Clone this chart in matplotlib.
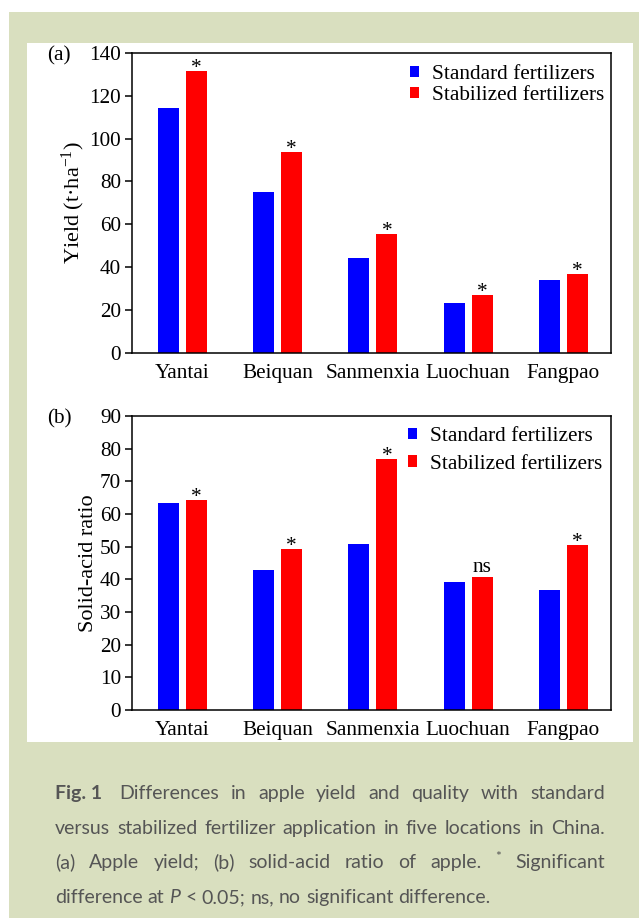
import matplotlib
matplotlib.use('Agg')
import matplotlib.pyplot as plt
from matplotlib.patches import Rectangle
from matplotlib import transforms
import numpy as np

W, H = 639, 918

sites = ['Yantai', 'Beiquan', 'Sanmenxia', 'Luochuan', 'Fangpao']
series = ['Standard fertilizers', 'Stabilized fertilizers']

yield_std = [114.5, 75, 44.2, 23.3, 34]
yield_stab = [131.6, 93.7, 55.5, 27, 36.8]
yield_sig = ['*', '*', '*', '*', '*']

ratio_std = [63.5, 42.9, 50.8, 39.2, 36.7]
ratio_stab = [64.3, 49.2, 76.8, 40.6, 50.5]
ratio_sig = ['*', '*', '*', 'ns', '*']

plt.rcParams['font.family'] = 'Liberation Serif'
plt.rcParams['font.size'] = 15.3
plt.rcParams['mathtext.fontset'] = 'custom'
plt.rcParams['mathtext.rm'] = 'Liberation Serif'
plt.rcParams['mathtext.it'] = 'Liberation Serif:italic'

fig = plt.figure(figsize=(W / 100, H / 100), dpi=100)


def box(x0, y0, x1, y1, color):
    fig.add_artist(Rectangle((x0 / W, 1 - y1 / H), (x1 - x0) / W, (y1 - y0) / H,
                             transform=fig.transFigure, facecolor=color,
                             edgecolor='none', zorder=-5))


box(9, 12, W, H, '#d9dfbf')
box(27, 43, 633, 742, 'white')

# offsets (pixels) of the significance marks above the red bars
mark_rise = {'*': -2, 'ns': 5}


def panel(top, bottom, std, stab, marks, ymax, step, ylabel, label_x, tag, spacing, shift):
    ax = fig.add_axes([132 / W, 1 - bottom / H, (611 - 132) / W, (bottom - top) / H])
    x = np.arange(len(sites))
    ax.bar(x - 0.147, std, 0.22, color='#0000ff', label=series[0])
    ax.bar(x + 0.147, stab, 0.22, color='#ff0000', label=series[1])
    ax.set_xlim(-0.53, 4.5)
    ax.set_ylim(0, ymax)
    ax.set_yticks(np.arange(0, ymax + 1, step))
    ax.set_xticks(x, sites)
    ax.tick_params(axis='x', length=0, pad=8)
    ax.tick_params(axis='y', length=5, width=1.1, pad=3)
    for s in ax.spines.values():
        s.set_linewidth(1.1)
    for xi, h, m in zip(x, stab, marks):
        off = transforms.offset_copy(ax.transData, fig=fig, x=0, y=mark_rise[m], units='dots')
        ax.text(xi + 0.147, h, m, ha='center', va='baseline', transform=off)
    ax.set_ylabel(ylabel, fontsize=16)
    ax.yaxis.set_label_coords(label_x, 0.5)
    anchor = transforms.offset_copy(ax.transAxes, fig=fig, x=shift[0], y=shift[1], units='dots')
    ax.legend(loc='upper right', bbox_to_anchor=(1, 1), bbox_transform=anchor,
              frameon=False, handlelength=0.45, handleheight=0.45,
              handletextpad=0.6, labelspacing=spacing, borderaxespad=0.45, borderpad=0.2)
    fig.text(47 / W, 1 - (top + 3) / H, tag, ha='left', va='center')
    return ax


panel(53, 352.5, yield_std, yield_stab, yield_sig, 140, 20,
      'Yield (t·ha$^{-1}$)', -0.093, '(a)', 0.1, (7, 2))
panel(416, 710, ratio_std, ratio_stab, ratio_sig, 90, 10,
      'Solid-acid ratio', -0.072, '(b)', 0.42, (5, 3))

# caption, justified between x0 and x1
cap_color = '#555555'
cap_size = 14
x0, x1 = 55, 605
renderer = fig.canvas.get_renderer()


def width(t):
    return t.get_window_extent(renderer).width


probe = fig.text(0, 0, 'x x', family='Lato', fontsize=cap_size)
probe2 = fig.text(0, 0, 'xx', family='Lato', fontsize=cap_size)
space = width(probe) - width(probe2)
probe.remove()
probe2.remove()


def caption_line(y, tokens, justify=True):
    texts, rises, extra = [], [], []
    for tok in tokens:
        text, kw = tok[0], dict(tok[1]) if len(tok) > 1 else {}
        rises.append(kw.pop('rise', 0))
        extra.append(kw.pop('extra', 0))
        kw.setdefault('fontsize', cap_size)
        texts.append(fig.text(0, 0, text, family='Lato', color=cap_color,
                              va='baseline', **kw))
    widths = [width(t) for t in texts]
    fixed = sum(extra)
    if justify:
        gap = (x1 - x0 - sum(widths) - fixed) / (len(texts) - 1)
    else:
        gap = space
    xpos = x0
    for t, w, r, e in zip(texts, widths, rises, extra):
        xpos += e
        t.set_position((xpos / W, 1 - (y - r) / H))
        xpos += w + gap


caption_line(799, [('Fig. 1', {'weight': 'bold'})] +
             [(w, {'extra': 6 if i == 0 else 0}) for i, w in
              enumerate('Differences in apple yield and quality with standard'.split())])
caption_line(834, [(w,) for w in
                   'versus stabilized fertilizer application in five locations in China.'.split()])
caption_line(868, [(w,) for w in '(a) Apple yield; (b) solid-acid ratio of apple.'.split()] +
             [('*', {'rise': 7, 'fontsize': 10}), ('Significant',)])
caption_line(903, [('difference',), ('at',), ('P', {'style': 'italic'}), ('<',), ('0.05;',),
                   ('ns,',), ('no',), ('significant',), ('difference.',)], justify=False)

fig.savefig('out.png', dpi=100)
